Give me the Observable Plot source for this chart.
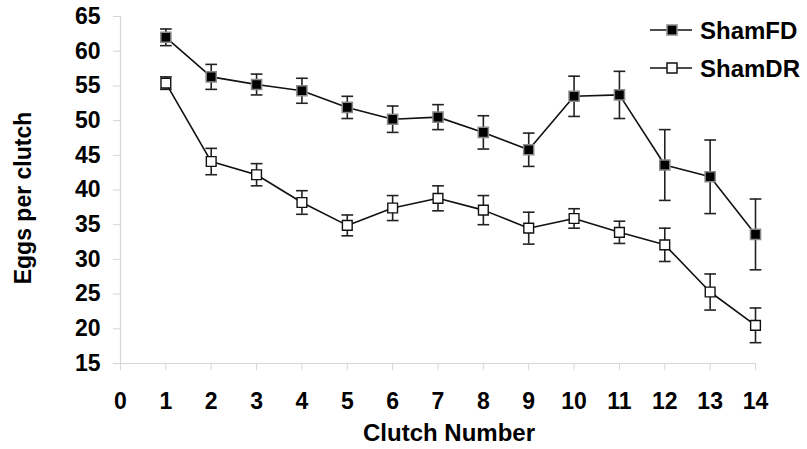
<!DOCTYPE html>
<html><head><meta charset="utf-8">
<script src="https://cdn.jsdelivr.net/npm/d3@7"></script>
<script src="https://cdn.jsdelivr.net/npm/@observablehq/plot@0.6"></script>
<style>
body{margin:0;background:#fff;font-family:"Liberation Sans",Arial,sans-serif;}
#wrap{position:relative;width:807px;height:449px;}
#legend{position:absolute;left:0;top:0;pointer-events:none;}
</style></head><body><div id="wrap"></div>
<script>
const clutches = [1,2,3,4,5,6,7,8,9,10,11,12,13,14];
const shamFD    = [62.0,56.3,55.2,54.3,51.9,50.2,50.5,48.3,45.8,53.5,53.7,43.6,41.9,33.6];
const shamFDErr = [1.2,1.8,1.5,1.8,1.6,1.9,1.8,2.4,2.4,2.9,3.4,5.1,5.3,5.1];
const shamDR    = [55.4,44.1,42.2,38.2,34.9,37.4,38.8,37.1,34.5,35.9,33.9,32.1,25.3,20.5];
const shamDRErr = [0.9,1.9,1.6,1.7,1.5,1.8,1.8,2.1,2.3,1.4,1.6,2.4,2.6,2.5];
const seriesNames = ["ShamFD","ShamDR"];
const xTicks = [0,1,2,3,4,5,6,7,8,9,10,11,12,13,14];
const yTicks = [15,20,25,30,35,40,45,50,55,60,65];
const xLabel = "Clutch Number";
const yLabel = "Eggs per clutch";

const rows = [];
clutches.forEach((c,i) => {
  rows.push({series: seriesNames[0], x: c, y: shamFD[i], lo: shamFD[i]-shamFDErr[i], hi: shamFD[i]+shamFDErr[i]});
});
clutches.forEach((c,i) => {
  rows.push({series: seriesNames[1], x: c, y: shamDR[i], lo: shamDR[i]-shamDRErr[i], hi: shamDR[i]+shamDRErr[i]});
});
const fdRows = rows.filter(d => d.series === seriesNames[0]);
const drRows = rows.filter(d => d.series === seriesNames[1]);

const hline = {draw(ctx, size){ const w = Math.sqrt(size)/2; ctx.moveTo(-w,0); ctx.lineTo(w,0); }};
const FONT = "Liberation Sans, Arial, sans-serif";
const axisGray = "#d6d6d6";

const chart = Plot.plot({
  width: 807, height: 449,
  marginLeft: 120, marginRight: 52, marginTop: 16, marginBottom: 86,
  style: {fontFamily: FONT, background: "#fff", overflow: "visible"},
  x: {domain: [0,14], axis: null},
  y: {domain: [15,65], axis: null},
  marks: [
    Plot.ruleY([15], {stroke: axisGray, strokeWidth: 1.2}),
    Plot.ruleX([0], {stroke: axisGray, strokeWidth: 1.2}),
    Plot.axisX({ticks: xTicks, tickFormat: d => String(d), tickSize: 7, tickPadding: 22, stroke: axisGray, fill: "#000", fontSize: 23, fontWeight: "bold", fontFamily: FONT, label: null}),
    Plot.axisY({ticks: yTicks, tickFormat: d => String(d), tickSize: 7, tickPadding: 13, stroke: axisGray, fill: "#000", fontSize: 23, fontWeight: "bold", fontFamily: FONT, label: null}),
    Plot.line(rows, {x: "x", y: "y", z: "series", stroke: "#111", strokeWidth: 1.6}),
    Plot.ruleX(rows, {x: "x", y1: "lo", y2: "hi", stroke: "#222", strokeWidth: 1.6}),
    Plot.dot(rows, {x: "x", y: "hi", symbol: hline, r: 6.6, stroke: "#222", fill: "none", strokeWidth: 1.6}),
    Plot.dot(rows, {x: "x", y: "lo", symbol: hline, r: 6.6, stroke: "#222", fill: "none", strokeWidth: 1.6}),
    Plot.dot(fdRows, {x: "x", y: "y", symbol: "square", r: 5.7, fill: "#000", stroke: "#8a8a8a", strokeWidth: 1.5}),
    Plot.dot(drRows, {x: "x", y: "y", symbol: "square", r: 5.5, fill: "#fff", stroke: "#111", strokeWidth: 1.4}),
    Plot.text([xLabel], {text: d => d, frameAnchor: "bottom", dy: 70, dx: 11, fontSize: 24, fontWeight: "bold", fontFamily: FONT, fill: "#000", textAnchor: "middle", lineAnchor: "middle"}),
    Plot.text([yLabel], {text: d => d, frameAnchor: "left", rotate: -90, dx: -97, dy: 8, fontSize: 23, fontWeight: "bold", fontFamily: FONT, fill: "#000", textAnchor: "middle", lineAnchor: "middle"})
  ]
});
const wrap = document.getElementById("wrap");
wrap.appendChild(chart);

// legend overlay
const lg = d3.select(wrap).append("svg").attr("id","legend").attr("width",807).attr("height",449);
const legendItems = [
  {name: seriesNames[0], fill: "#000", stroke: "#8a8a8a"},
  {name: seriesNames[1], fill: "#fff", stroke: "#111"}
];
legendItems.forEach((it, i) => {
  const cy = 30 + i*38;
  lg.append("line").attr("x1",650).attr("x2",692).attr("y1",cy).attr("y2",cy).attr("stroke","#111").attr("stroke-width",1.6);
  lg.append("rect").attr("x",667).attr("y",cy-5).attr("width",10).attr("height",10).attr("fill",it.fill).attr("stroke",it.stroke).attr("stroke-width",1.5);
  lg.append("text").attr("x",700).attr("y",cy).attr("dy","0.36em").attr("font-family",FONT).attr("font-weight","bold").attr("font-size",24).attr("fill","#000").text(it.name);
});
</script></body></html>
